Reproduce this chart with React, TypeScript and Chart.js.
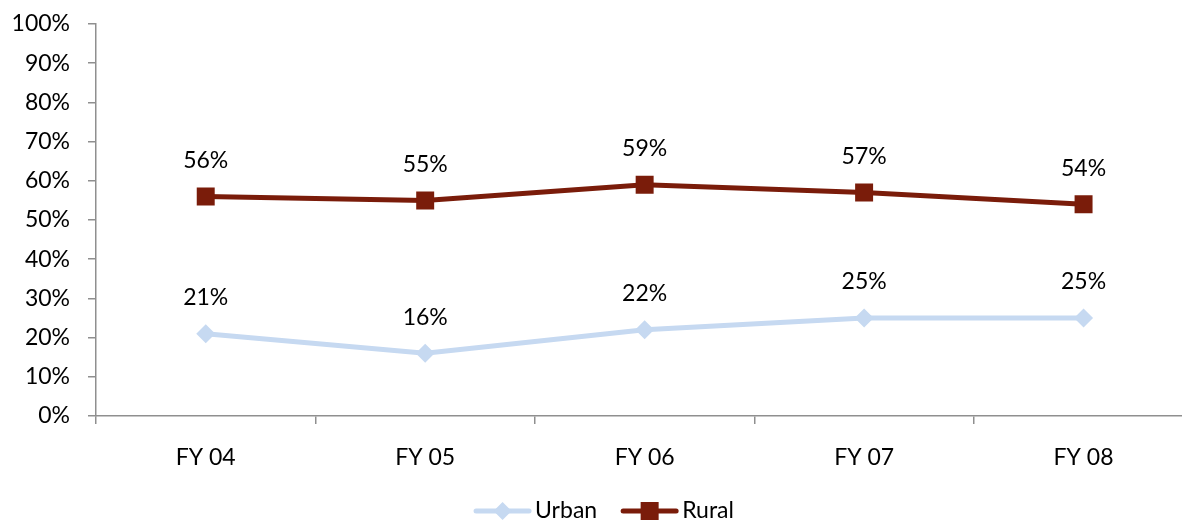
import React, { useEffect, useRef } from "react";
import { Chart, registerables } from "chart.js";

Chart.register(...registerables);

const categories = ["FY 04", "FY 05", "FY 06", "FY 07", "FY 08"];
const urbanValues = [21, 16, 22, 25, 25];
const ruralValues = [56, 55, 59, 57, 54];
const yTicks = [0, 10, 20, 30, 40, 50, 60, 70, 80, 90, 100];

const URBAN = "rgb(198,217,241)";
const RURAL = "rgb(122,28,10)";
const AXIS = "#8f8f8f";
const FONT = "Lato, 'Open Sans', sans-serif";
const FS = 23;
const CANVAS_W = 1206;

const dataLabelPlugin = {
  id: "dataLabels",
  afterDatasetsDraw(chart: any) {
    const ctx = chart.ctx;
    ctx.save();
    ctx.font = `${FS}px ${FONT}`;
    ctx.fillStyle = "#000";
    ctx.textAlign = "center";
    ctx.textBaseline = "middle";
    chart.data.datasets.forEach((ds: any, i: number) => {
      const meta = chart.getDatasetMeta(i);
      meta.data.forEach((pt: any, j: number) => {
        ctx.fillText(ds.data[j] + "%", pt.x, pt.y - 36);
      });
    });
    ctx.restore();
  },
};

const legendPlugin = {
  id: "customLegend",
  afterDraw(chart: any) {
    const ctx = chart.ctx;
    ctx.save();
    ctx.font = `${FS}px ${FONT}`;
    const items = chart.data.datasets.map((ds: any) => ({
      label: ds.label,
      color: ds.borderColor,
      style: ds.pointStyle,
      w: ctx.measureText(ds.label).width,
    }));
    const lineLen = 57;
    const gap = 4;
    const itemGap = 24;
    const total =
      items.reduce((s: number, it: any) => s + lineLen + gap + it.w, 0) +
      itemGap * (items.length - 1);
    let x = 604 - total / 2;
    const y = 511;
    items.forEach((it: any) => {
      ctx.strokeStyle = it.color;
      ctx.lineWidth = 5;
      ctx.lineCap = "round";
      ctx.beginPath();
      ctx.moveTo(x + 2, y);
      ctx.lineTo(x + lineLen - 2, y);
      ctx.stroke();
      const cx = x + lineLen / 2;
      ctx.fillStyle = it.color;
      ctx.beginPath();
      if (it.style === "rectRot") {
        const r = 9;
        ctx.moveTo(cx - r, y);
        ctx.lineTo(cx, y - r);
        ctx.lineTo(cx + r, y);
        ctx.lineTo(cx, y + r);
        ctx.closePath();
      } else {
        ctx.rect(cx - 9, y - 9, 18, 18);
      }
      ctx.fill();
      ctx.fillStyle = "#000";
      ctx.textAlign = "left";
      ctx.textBaseline = "middle";
      ctx.fillText(it.label, x + lineLen + gap, y);
      x += lineLen + gap + it.w + itemGap;
    });
    ctx.restore();
  },
};

export default function App() {
  const ref = useRef<HTMLCanvasElement>(null);
  useEffect(() => {
    document.body.style.margin = "0";
    document.body.style.overflow = "hidden";
    document.documentElement.style.overflow = "hidden";
    const chart = new Chart(ref.current as HTMLCanvasElement, {
      type: "line",
      data: {
        labels: categories,
        datasets: [
          {
            label: "Urban",
            data: urbanValues,
            borderColor: URBAN,
            backgroundColor: URBAN,
            borderWidth: 5,
            pointStyle: "rectRot",
            pointRadius: 9.5,
            pointBorderWidth: 0,
            pointBackgroundColor: URBAN,
            tension: 0,
          },
          {
            label: "Rural",
            data: ruralValues,
            borderColor: RURAL,
            backgroundColor: RURAL,
            borderWidth: 5,
            pointStyle: "rect",
            pointRadius: 12.7,
            pointBorderWidth: 0,
            pointBackgroundColor: RURAL,
            tension: 0,
          },
        ],
      },
      options: {
        responsive: false,
        animation: false,
        devicePixelRatio: 1,
        layout: { padding: { top: 24, right: 1, bottom: 0, left: 0 } },
        plugins: {
          legend: { display: false },
          tooltip: { enabled: false },
        },
        scales: {
          x: {
            offset: true,
            grid: {
              offset: true,
              drawOnChartArea: false,
              drawTicks: true,
              tickLength: 8,
              color: AXIS,
              lineWidth: 1.5,
            },
            border: { color: AXIS, width: 1.5 },
            ticks: {
              color: "#000",
              font: { family: FONT, size: FS },
              padding: 20,
              maxRotation: 0,
            },
            afterFit(scale: any) {
              scale.height = 105;
            },
          },
          y: {
            min: 0,
            max: 100,
            afterBuildTicks(scale: any) {
              scale.ticks = yTicks.map((v) => ({ value: v }));
            },
            grid: {
              drawOnChartArea: false,
              drawTicks: true,
              tickLength: 8,
              color: AXIS,
              lineWidth: 1.5,
            },
            border: { color: AXIS, width: 1.5 },
            ticks: {
              color: "#000",
              font: { family: FONT, size: FS },
              padding: 18,
              callback: (v: any) => v + "%",
            },
            afterFit(scale: any) {
              scale.width = 96;
              scale.paddingTop = 0;
              scale.paddingBottom = 0;
            },
          },
        },
      },
      plugins: [dataLabelPlugin, legendPlugin],
    });
    return () => chart.destroy();
  }, []);
  return (
    <div style={{ width: CANVAS_W, height: 521, position: "relative" }}>
      <canvas ref={ref} width={CANVAS_W} height={521} style={{ display: "block" }} />
    </div>
  );
}
